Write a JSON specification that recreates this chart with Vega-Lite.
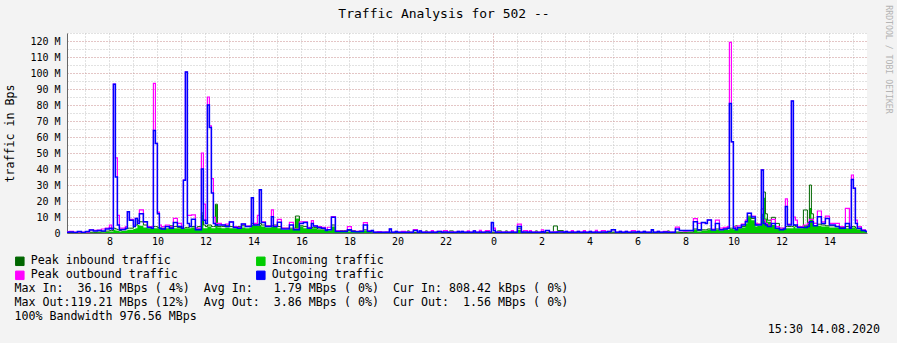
{
  "$schema": "https://vega.github.io/schema/vega-lite/v6.json",
  "width": 800,
  "height": 200,
  "autosize": {"type": "none"},
  "padding": {"left": 67, "top": 33, "right": 30, "bottom": 110},
  "background": "#f3f3f3",
  "config": {"font": "DejaVu Sans Mono", "view": {"stroke": null, "fill": "#ffffff"}},
  "title": {"text": "15:30 14.08.2020", "orient": "bottom", "anchor": "end", "frame": "group", "offset": 2, "dx": 13, "fontSize": 11.65, "fontWeight": "normal", "color": "#000000", "font": "DejaVu Sans Mono"},
  "data": {
    "format": {"parse": {"time": "date"}},
    "values": [
      {"time":"2020-08-13T06:10","peak_in":0.5,"in":0.2,"peak_out":0.8,"out":0.4},
      {"time":"2020-08-13T06:20","peak_in":0.4,"in":0.2,"peak_out":1.0,"out":0.6},
      {"time":"2020-08-13T06:30","peak_in":0.3,"in":0.2,"peak_out":0.5,"out":0.3},
      {"time":"2020-08-13T06:40","peak_in":0.4,"in":0.2,"peak_out":0.6,"out":1.0},
      {"time":"2020-08-13T06:50","peak_in":0.3,"in":0.2,"peak_out":0.5,"out":0.3},
      {"time":"2020-08-13T07:00","peak_in":0.4,"in":0.3,"peak_out":0.6,"out":1.0},
      {"time":"2020-08-13T07:10","peak_in":0.5,"in":0.3,"peak_out":2.0,"out":1.8},
      {"time":"2020-08-13T07:20","peak_in":0.5,"in":0.4,"peak_out":1.6,"out":1.2},
      {"time":"2020-08-13T07:30","peak_in":0.6,"in":0.4,"peak_out":1.8,"out":1.5},
      {"time":"2020-08-13T07:40","peak_in":0.8,"in":0.5,"peak_out":2.5,"out":1.2},
      {"time":"2020-08-13T07:50","peak_in":1.2,"in":0.8,"peak_out":3.0,"out":2.5},
      {"time":"2020-08-13T08:00","peak_in":1.5,"in":1.0,"peak_out":5.0,"out":2.9},
      {"time":"2020-08-13T08:05","peak_in":1.5,"in":1.0,"peak_out":3.0,"out":2.5},
      {"time":"2020-08-13T08:10","peak_in":3.0,"in":2.0,"peak_out":93.0,"out":93.0},
      {"time":"2020-08-13T08:15","peak_in":2.5,"in":1.5,"peak_out":47.0,"out":35.0},
      {"time":"2020-08-13T08:20","peak_in":2.0,"in":1.2,"peak_out":11.0,"out":5.0},
      {"time":"2020-08-13T08:25","peak_in":1.5,"in":1.0,"peak_out":3.0,"out":2.0},
      {"time":"2020-08-13T08:30","peak_in":2.0,"in":1.2,"peak_out":3.0,"out":2.2},
      {"time":"2020-08-13T08:40","peak_in":2.5,"in":1.5,"peak_out":4.0,"out":3.0},
      {"time":"2020-08-13T08:45","peak_in":3.0,"in":2.0,"peak_out":13.3,"out":13.3},
      {"time":"2020-08-13T08:50","peak_in":3.0,"in":2.0,"peak_out":8.5,"out":8.0},
      {"time":"2020-08-13T09:00","peak_in":4.0,"in":2.5,"peak_out":5.0,"out":4.0},
      {"time":"2020-08-13T09:05","peak_in":5.0,"in":3.0,"peak_out":9.2,"out":9.0},
      {"time":"2020-08-13T09:10","peak_in":8.0,"in":5.0,"peak_out":7.0,"out":6.0},
      {"time":"2020-08-13T09:15","peak_in":7.0,"in":4.5,"peak_out":14.4,"out":12.0},
      {"time":"2020-08-13T09:25","peak_in":5.0,"in":3.5,"peak_out":7.0,"out":7.0},
      {"time":"2020-08-13T09:35","peak_in":4.0,"in":3.0,"peak_out":4.0,"out":3.5},
      {"time":"2020-08-13T09:45","peak_in":4.0,"in":3.0,"peak_out":4.0,"out":3.0},
      {"time":"2020-08-13T09:50","peak_in":4.0,"in":3.0,"peak_out":93.5,"out":64.0},
      {"time":"2020-08-13T09:55","peak_in":4.0,"in":3.0,"peak_out":56.0,"out":56.0},
      {"time":"2020-08-13T10:00","peak_in":3.5,"in":3.0,"peak_out":13.0,"out":12.0},
      {"time":"2020-08-13T10:05","peak_in":3.0,"in":2.5,"peak_out":5.0,"out":3.0},
      {"time":"2020-08-13T10:10","peak_in":3.0,"in":2.5,"peak_out":4.0,"out":2.5},
      {"time":"2020-08-13T10:20","peak_in":4.0,"in":3.0,"peak_out":5.0,"out":4.0},
      {"time":"2020-08-13T10:30","peak_in":4.5,"in":4.0,"peak_out":4.0,"out":3.0},
      {"time":"2020-08-13T10:40","peak_in":4.0,"in":3.0,"peak_out":9.2,"out":6.5},
      {"time":"2020-08-13T10:50","peak_in":3.5,"in":3.0,"peak_out":6.0,"out":4.0},
      {"time":"2020-08-13T11:00","peak_in":3.0,"in":2.5,"peak_out":4.0,"out":3.0},
      {"time":"2020-08-13T11:05","peak_in":3.0,"in":2.5,"peak_out":33.0,"out":33.0},
      {"time":"2020-08-13T11:10","peak_in":3.5,"in":3.0,"peak_out":100.6,"out":100.6},
      {"time":"2020-08-13T11:15","peak_in":3.5,"in":3.0,"peak_out":11.0,"out":6.0},
      {"time":"2020-08-13T11:20","peak_in":4.0,"in":3.0,"peak_out":11.0,"out":4.0},
      {"time":"2020-08-13T11:25","peak_in":4.0,"in":3.5,"peak_out":11.3,"out":8.6},
      {"time":"2020-08-13T11:35","peak_in":3.0,"in":2.5,"peak_out":3.0,"out":2.0},
      {"time":"2020-08-13T11:40","peak_in":4.0,"in":3.0,"peak_out":3.0,"out":2.0},
      {"time":"2020-08-13T11:50","peak_in":12.5,"in":11.5,"peak_out":50.0,"out":40.0},
      {"time":"2020-08-13T11:55","peak_in":5.0,"in":3.0,"peak_out":18.0,"out":8.0},
      {"time":"2020-08-13T12:00","peak_in":4.0,"in":3.0,"peak_out":8.0,"out":6.0},
      {"time":"2020-08-13T12:05","peak_in":5.0,"in":4.0,"peak_out":85.0,"out":80.0},
      {"time":"2020-08-13T12:10","peak_in":5.0,"in":4.0,"peak_out":67.0,"out":66.0},
      {"time":"2020-08-13T12:15","peak_in":4.0,"in":3.0,"peak_out":34.0,"out":25.0},
      {"time":"2020-08-13T12:20","peak_in":4.0,"in":3.0,"peak_out":9.8,"out":6.0},
      {"time":"2020-08-13T12:25","peak_in":18.0,"in":17.5,"peak_out":6.0,"out":5.0},
      {"time":"2020-08-13T12:30","peak_in":4.0,"in":3.5,"peak_out":6.0,"out":5.0},
      {"time":"2020-08-13T12:40","peak_in":4.0,"in":3.0,"peak_out":5.0,"out":5.0},
      {"time":"2020-08-13T12:50","peak_in":4.5,"in":3.5,"peak_out":5.6,"out":4.0},
      {"time":"2020-08-13T13:00","peak_in":4.0,"in":3.0,"peak_out":7.0,"out":6.9},
      {"time":"2020-08-13T13:10","peak_in":3.5,"in":3.0,"peak_out":4.0,"out":3.5},
      {"time":"2020-08-13T13:20","peak_in":4.0,"in":3.0,"peak_out":3.5,"out":3.0},
      {"time":"2020-08-13T13:30","peak_in":4.5,"in":3.5,"peak_out":5.6,"out":5.6},
      {"time":"2020-08-13T13:40","peak_in":4.0,"in":3.0,"peak_out":4.3,"out":4.0},
      {"time":"2020-08-13T13:50","peak_in":4.0,"in":3.5,"peak_out":4.5,"out":4.0},
      {"time":"2020-08-13T13:55","peak_in":6.0,"in":5.0,"peak_out":22.0,"out":22.0},
      {"time":"2020-08-13T14:00","peak_in":5.0,"in":4.5,"peak_out":6.0,"out":5.0},
      {"time":"2020-08-13T14:10","peak_in":5.5,"in":4.5,"peak_out":11.0,"out":5.0},
      {"time":"2020-08-13T14:15","peak_in":6.0,"in":5.0,"peak_out":27.0,"out":27.0},
      {"time":"2020-08-13T14:20","peak_in":5.0,"in":4.0,"peak_out":7.0,"out":6.5},
      {"time":"2020-08-13T14:30","peak_in":4.5,"in":3.5,"peak_out":4.5,"out":4.0},
      {"time":"2020-08-13T14:40","peak_in":4.5,"in":3.5,"peak_out":4.5,"out":4.0},
      {"time":"2020-08-13T14:45","peak_in":4.5,"in":4.0,"peak_out":14.4,"out":10.2},
      {"time":"2020-08-13T14:50","peak_in":5.0,"in":4.0,"peak_out":4.5,"out":4.0},
      {"time":"2020-08-13T15:00","peak_in":4.0,"in":3.0,"peak_out":8.5,"out":6.7},
      {"time":"2020-08-13T15:10","peak_in":3.0,"in":2.0,"peak_out":3.0,"out":2.5},
      {"time":"2020-08-13T15:20","peak_in":3.0,"in":2.0,"peak_out":3.0,"out":2.5},
      {"time":"2020-08-13T15:30","peak_in":3.0,"in":2.5,"peak_out":6.7,"out":5.0},
      {"time":"2020-08-13T15:40","peak_in":3.0,"in":2.0,"peak_out":2.5,"out":2.0},
      {"time":"2020-08-13T15:45","peak_in":10.6,"in":9.0,"peak_out":2.5,"out":2.0},
      {"time":"2020-08-13T15:55","peak_in":4.5,"in":4.0,"peak_out":7.0,"out":6.0},
      {"time":"2020-08-13T16:05","peak_in":4.0,"in":3.0,"peak_out":7.0,"out":6.5},
      {"time":"2020-08-13T16:15","peak_in":3.0,"in":2.5,"peak_out":3.5,"out":3.0},
      {"time":"2020-08-13T16:25","peak_in":3.5,"in":3.0,"peak_out":7.7,"out":6.0},
      {"time":"2020-08-13T16:30","peak_in":3.5,"in":3.0,"peak_out":4.5,"out":4.4},
      {"time":"2020-08-13T16:40","peak_in":2.5,"in":2.0,"peak_out":4.0,"out":3.5},
      {"time":"2020-08-13T16:50","peak_in":2.5,"in":2.0,"peak_out":3.5,"out":3.0},
      {"time":"2020-08-13T17:00","peak_in":2.0,"in":1.5,"peak_out":2.0,"out":1.5},
      {"time":"2020-08-13T17:05","peak_in":2.0,"in":1.5,"peak_out":3.6,"out":2.0},
      {"time":"2020-08-13T17:15","peak_in":5.0,"in":4.0,"peak_out":10.2,"out":9.8},
      {"time":"2020-08-13T17:25","peak_in":1.5,"in":1.0,"peak_out":1.5,"out":1.0},
      {"time":"2020-08-13T17:35","peak_in":1.5,"in":1.0,"peak_out":1.2,"out":1.0},
      {"time":"2020-08-13T17:45","peak_in":1.5,"in":1.0,"peak_out":1.2,"out":1.0},
      {"time":"2020-08-13T17:55","peak_in":1.5,"in":1.0,"peak_out":4.0,"out":2.0},
      {"time":"2020-08-13T18:05","peak_in":1.5,"in":1.0,"peak_out":1.2,"out":1.0},
      {"time":"2020-08-13T18:15","peak_in":1.0,"in":0.8,"peak_out":1.0,"out":0.8},
      {"time":"2020-08-13T18:25","peak_in":1.2,"in":0.8,"peak_out":1.2,"out":1.0},
      {"time":"2020-08-13T18:35","peak_in":2.0,"in":1.5,"peak_out":6.5,"out":5.0},
      {"time":"2020-08-13T18:45","peak_in":1.0,"in":0.8,"peak_out":1.5,"out":1.0},
      {"time":"2020-08-13T18:55","peak_in":0.8,"in":0.5,"peak_out":1.5,"out":1.5},
      {"time":"2020-08-13T19:00","peak_in":0.3,"in":0.2,"peak_out":0.6,"out":0.4},
      {"time":"2020-08-13T19:10","peak_in":0.4,"in":0.2,"peak_out":0.8,"out":0.5},
      {"time":"2020-08-13T19:20","peak_in":0.3,"in":0.2,"peak_out":0.6,"out":0.4},
      {"time":"2020-08-13T19:30","peak_in":0.3,"in":0.2,"peak_out":0.7,"out":0.4},
      {"time":"2020-08-13T19:40","peak_in":0.4,"in":0.3,"peak_out":2.5,"out":2.5},
      {"time":"2020-08-13T19:45","peak_in":0.3,"in":0.2,"peak_out":0.6,"out":0.4},
      {"time":"2020-08-13T19:55","peak_in":0.3,"in":0.2,"peak_out":1.0,"out":1.0},
      {"time":"2020-08-13T20:00","peak_in":0.3,"in":0.2,"peak_out":0.6,"out":0.4},
      {"time":"2020-08-13T20:10","peak_in":0.4,"in":0.2,"peak_out":1.0,"out":0.5},
      {"time":"2020-08-13T20:20","peak_in":0.3,"in":0.2,"peak_out":0.6,"out":0.4},
      {"time":"2020-08-13T20:25","peak_in":1.3,"in":0.4,"peak_out":0.7,"out":0.5},
      {"time":"2020-08-13T20:30","peak_in":0.3,"in":0.2,"peak_out":0.6,"out":0.4},
      {"time":"2020-08-13T20:40","peak_in":0.4,"in":0.3,"peak_out":2.1,"out":1.5},
      {"time":"2020-08-13T20:50","peak_in":0.3,"in":0.2,"peak_out":0.6,"out":0.4},
      {"time":"2020-08-13T20:55","peak_in":0.4,"in":0.2,"peak_out":1.3,"out":1.3},
      {"time":"2020-08-13T21:00","peak_in":0.3,"in":0.2,"peak_out":0.6,"out":0.4},
      {"time":"2020-08-13T21:10","peak_in":1.3,"in":0.5,"peak_out":0.7,"out":0.5},
      {"time":"2020-08-13T21:15","peak_in":0.3,"in":0.2,"peak_out":0.6,"out":0.4},
      {"time":"2020-08-13T21:25","peak_in":0.4,"in":0.2,"peak_out":1.5,"out":0.6},
      {"time":"2020-08-13T21:30","peak_in":0.3,"in":0.2,"peak_out":0.6,"out":0.4},
      {"time":"2020-08-13T21:40","peak_in":0.9,"in":0.8,"peak_out":1.0,"out":1.0},
      {"time":"2020-08-13T21:50","peak_in":0.3,"in":0.2,"peak_out":0.6,"out":0.4},
      {"time":"2020-08-13T21:55","peak_in":0.4,"in":0.2,"peak_out":1.5,"out":0.6},
      {"time":"2020-08-13T22:05","peak_in":0.3,"in":0.2,"peak_out":0.6,"out":0.4},
      {"time":"2020-08-13T22:10","peak_in":1.3,"in":0.5,"peak_out":0.7,"out":0.5},
      {"time":"2020-08-13T22:20","peak_in":0.3,"in":0.2,"peak_out":0.6,"out":0.4},
      {"time":"2020-08-13T22:30","peak_in":0.4,"in":0.2,"peak_out":1.0,"out":1.0},
      {"time":"2020-08-13T22:35","peak_in":0.3,"in":0.2,"peak_out":0.6,"out":0.4},
      {"time":"2020-08-13T22:40","peak_in":0.4,"in":0.2,"peak_out":1.0,"out":1.0},
      {"time":"2020-08-13T22:45","peak_in":0.3,"in":0.2,"peak_out":0.6,"out":0.4},
      {"time":"2020-08-13T22:55","peak_in":0.4,"in":0.2,"peak_out":1.3,"out":0.6},
      {"time":"2020-08-13T23:00","peak_in":0.3,"in":0.2,"peak_out":0.6,"out":0.4},
      {"time":"2020-08-13T23:10","peak_in":0.4,"in":0.2,"peak_out":1.3,"out":1.3},
      {"time":"2020-08-13T23:15","peak_in":0.3,"in":0.2,"peak_out":0.6,"out":0.4},
      {"time":"2020-08-13T23:25","peak_in":0.4,"in":0.2,"peak_out":1.6,"out":0.6},
      {"time":"2020-08-13T23:30","peak_in":0.3,"in":0.2,"peak_out":0.6,"out":0.4},
      {"time":"2020-08-13T23:40","peak_in":1.0,"in":0.4,"peak_out":1.5,"out":0.6},
      {"time":"2020-08-13T23:50","peak_in":0.3,"in":0.2,"peak_out":0.6,"out":0.4},
      {"time":"2020-08-13T23:55","peak_in":0.5,"in":0.3,"peak_out":6.5,"out":6.5},
      {"time":"2020-08-14T00:00","peak_in":0.4,"in":0.2,"peak_out":3.0,"out":1.5},
      {"time":"2020-08-14T00:05","peak_in":0.3,"in":0.2,"peak_out":0.6,"out":0.4},
      {"time":"2020-08-14T00:10","peak_in":1.3,"in":0.5,"peak_out":0.7,"out":0.5},
      {"time":"2020-08-14T00:20","peak_in":0.3,"in":0.2,"peak_out":0.6,"out":0.4},
      {"time":"2020-08-14T00:30","peak_in":1.3,"in":0.5,"peak_out":0.7,"out":0.5},
      {"time":"2020-08-14T00:35","peak_in":0.3,"in":0.2,"peak_out":0.6,"out":0.4},
      {"time":"2020-08-14T00:45","peak_in":0.4,"in":0.2,"peak_out":1.5,"out":0.6},
      {"time":"2020-08-14T00:50","peak_in":0.3,"in":0.2,"peak_out":0.6,"out":0.4},
      {"time":"2020-08-14T01:00","peak_in":3.0,"in":2.0,"peak_out":5.6,"out":4.0},
      {"time":"2020-08-14T01:10","peak_in":0.4,"in":0.3,"peak_out":0.8,"out":0.5},
      {"time":"2020-08-14T01:15","peak_in":0.4,"in":0.2,"peak_out":1.5,"out":0.6},
      {"time":"2020-08-14T01:25","peak_in":0.3,"in":0.2,"peak_out":0.6,"out":0.4},
      {"time":"2020-08-14T01:30","peak_in":0.4,"in":0.2,"peak_out":1.5,"out":0.6},
      {"time":"2020-08-14T01:35","peak_in":0.3,"in":0.2,"peak_out":0.6,"out":0.4},
      {"time":"2020-08-14T01:45","peak_in":1.3,"in":0.5,"peak_out":0.7,"out":0.5},
      {"time":"2020-08-14T01:50","peak_in":0.3,"in":0.2,"peak_out":0.6,"out":0.4},
      {"time":"2020-08-14T02:00","peak_in":0.4,"in":0.2,"peak_out":2.0,"out":0.8},
      {"time":"2020-08-14T02:05","peak_in":0.3,"in":0.2,"peak_out":0.6,"out":0.4},
      {"time":"2020-08-14T02:10","peak_in":0.4,"in":0.3,"peak_out":1.5,"out":1.5},
      {"time":"2020-08-14T02:20","peak_in":0.3,"in":0.2,"peak_out":0.6,"out":0.4},
      {"time":"2020-08-14T02:30","peak_in":4.4,"in":0.5,"peak_out":0.7,"out":0.5},
      {"time":"2020-08-14T02:40","peak_in":1.5,"in":0.4,"peak_out":0.8,"out":0.6},
      {"time":"2020-08-14T02:55","peak_in":0.3,"in":0.2,"peak_out":0.6,"out":0.4},
      {"time":"2020-08-14T03:00","peak_in":0.4,"in":0.2,"peak_out":1.0,"out":1.0},
      {"time":"2020-08-14T03:05","peak_in":0.3,"in":0.2,"peak_out":0.6,"out":0.4},
      {"time":"2020-08-14T03:15","peak_in":0.4,"in":0.2,"peak_out":1.5,"out":0.6},
      {"time":"2020-08-14T03:20","peak_in":0.3,"in":0.2,"peak_out":0.6,"out":0.4},
      {"time":"2020-08-14T03:30","peak_in":0.4,"in":0.2,"peak_out":1.0,"out":1.0},
      {"time":"2020-08-14T03:35","peak_in":0.3,"in":0.2,"peak_out":0.6,"out":0.4},
      {"time":"2020-08-14T03:45","peak_in":0.4,"in":0.2,"peak_out":1.5,"out":0.6},
      {"time":"2020-08-14T03:50","peak_in":0.3,"in":0.2,"peak_out":0.6,"out":0.4},
      {"time":"2020-08-14T04:00","peak_in":0.4,"in":0.2,"peak_out":1.0,"out":1.0},
      {"time":"2020-08-14T04:05","peak_in":0.3,"in":0.2,"peak_out":0.6,"out":0.4},
      {"time":"2020-08-14T04:15","peak_in":0.4,"in":0.2,"peak_out":1.6,"out":0.6},
      {"time":"2020-08-14T04:20","peak_in":0.3,"in":0.2,"peak_out":0.6,"out":0.4},
      {"time":"2020-08-14T04:30","peak_in":0.4,"in":0.2,"peak_out":1.5,"out":0.6},
      {"time":"2020-08-14T04:40","peak_in":0.3,"in":0.2,"peak_out":0.6,"out":0.4},
      {"time":"2020-08-14T04:45","peak_in":0.4,"in":0.2,"peak_out":1.0,"out":1.0},
      {"time":"2020-08-14T04:55","peak_in":0.5,"in":0.3,"peak_out":2.0,"out":2.0},
      {"time":"2020-08-14T05:05","peak_in":0.3,"in":0.2,"peak_out":0.6,"out":0.4},
      {"time":"2020-08-14T05:15","peak_in":0.4,"in":0.2,"peak_out":1.0,"out":1.0},
      {"time":"2020-08-14T05:20","peak_in":0.3,"in":0.2,"peak_out":0.6,"out":0.4},
      {"time":"2020-08-14T05:30","peak_in":0.4,"in":0.2,"peak_out":1.0,"out":1.0},
      {"time":"2020-08-14T05:35","peak_in":0.3,"in":0.2,"peak_out":0.6,"out":0.4},
      {"time":"2020-08-14T05:45","peak_in":0.4,"in":0.2,"peak_out":1.5,"out":0.6},
      {"time":"2020-08-14T05:55","peak_in":0.3,"in":0.2,"peak_out":0.6,"out":0.4},
      {"time":"2020-08-14T06:00","peak_in":0.4,"in":0.2,"peak_out":1.0,"out":1.0},
      {"time":"2020-08-14T06:05","peak_in":0.3,"in":0.2,"peak_out":0.6,"out":0.4},
      {"time":"2020-08-14T06:15","peak_in":0.4,"in":0.3,"peak_out":1.0,"out":1.0},
      {"time":"2020-08-14T06:20","peak_in":0.3,"in":0.2,"peak_out":0.6,"out":0.4},
      {"time":"2020-08-14T06:35","peak_in":1.5,"in":0.8,"peak_out":2.0,"out":2.0},
      {"time":"2020-08-14T06:40","peak_in":0.3,"in":0.2,"peak_out":0.6,"out":0.4},
      {"time":"2020-08-14T06:50","peak_in":0.4,"in":0.2,"peak_out":1.0,"out":1.0},
      {"time":"2020-08-14T06:55","peak_in":0.3,"in":0.2,"peak_out":0.6,"out":0.4},
      {"time":"2020-08-14T07:05","peak_in":0.4,"in":0.2,"peak_out":1.0,"out":0.6},
      {"time":"2020-08-14T07:15","peak_in":1.3,"in":0.5,"peak_out":0.7,"out":0.5},
      {"time":"2020-08-14T07:20","peak_in":0.3,"in":0.2,"peak_out":0.6,"out":0.4},
      {"time":"2020-08-14T07:35","peak_in":0.6,"in":0.4,"peak_out":3.7,"out":2.5},
      {"time":"2020-08-14T07:45","peak_in":0.4,"in":0.3,"peak_out":1.5,"out":1.5},
      {"time":"2020-08-14T07:55","peak_in":0.5,"in":0.4,"peak_out":1.2,"out":1.5},
      {"time":"2020-08-14T08:05","peak_in":0.6,"in":0.5,"peak_out":1.5,"out":1.5},
      {"time":"2020-08-14T08:20","peak_in":2.5,"in":2.0,"peak_out":9.0,"out":7.0},
      {"time":"2020-08-14T08:30","peak_in":1.5,"in":1.0,"peak_out":6.0,"out":2.0},
      {"time":"2020-08-14T08:40","peak_in":2.0,"in":1.5,"peak_out":6.5,"out":6.5},
      {"time":"2020-08-14T08:50","peak_in":2.0,"in":1.5,"peak_out":6.0,"out":6.0},
      {"time":"2020-08-14T08:55","peak_in":2.5,"in":2.0,"peak_out":8.1,"out":8.1},
      {"time":"2020-08-14T09:05","peak_in":2.0,"in":1.5,"peak_out":2.5,"out":1.9},
      {"time":"2020-08-14T09:15","peak_in":2.5,"in":2.0,"peak_out":8.1,"out":6.0},
      {"time":"2020-08-14T09:25","peak_in":2.0,"in":1.5,"peak_out":3.0,"out":2.0},
      {"time":"2020-08-14T09:35","peak_in":2.5,"in":2.0,"peak_out":3.5,"out":2.5},
      {"time":"2020-08-14T09:45","peak_in":3.0,"in":2.0,"peak_out":4.0,"out":3.0},
      {"time":"2020-08-14T09:50","peak_in":3.0,"in":2.5,"peak_out":119.2,"out":81.0},
      {"time":"2020-08-14T09:55","peak_in":3.0,"in":2.5,"peak_out":57.0,"out":57.0},
      {"time":"2020-08-14T10:00","peak_in":2.5,"in":2.0,"peak_out":4.0,"out":3.0},
      {"time":"2020-08-14T10:05","peak_in":4.5,"in":2.5,"peak_out":3.0,"out":2.0},
      {"time":"2020-08-14T10:10","peak_in":3.0,"in":2.5,"peak_out":4.5,"out":3.5},
      {"time":"2020-08-14T10:20","peak_in":4.0,"in":3.5,"peak_out":5.5,"out":5.0},
      {"time":"2020-08-14T10:30","peak_in":7.0,"in":6.0,"peak_out":8.0,"out":7.0},
      {"time":"2020-08-14T10:35","peak_in":10.5,"in":10.0,"peak_out":12.3,"out":12.3},
      {"time":"2020-08-14T10:45","peak_in":9.0,"in":8.0,"peak_out":10.5,"out":10.0},
      {"time":"2020-08-14T10:55","peak_in":5.0,"in":4.0,"peak_out":6.0,"out":5.0},
      {"time":"2020-08-14T11:00","peak_in":5.5,"in":4.5,"peak_out":5.5,"out":5.0},
      {"time":"2020-08-14T11:10","peak_in":15.0,"in":12.0,"peak_out":39.4,"out":39.4},
      {"time":"2020-08-14T11:15","peak_in":25.6,"in":22.0,"peak_out":8.0,"out":6.0},
      {"time":"2020-08-14T11:20","peak_in":12.0,"in":9.0,"peak_out":6.0,"out":5.0},
      {"time":"2020-08-14T11:25","peak_in":8.0,"in":7.0,"peak_out":5.0,"out":4.0},
      {"time":"2020-08-14T11:35","peak_in":9.8,"in":5.0,"peak_out":8.5,"out":6.0},
      {"time":"2020-08-14T11:45","peak_in":6.0,"in":3.0,"peak_out":4.0,"out":3.0},
      {"time":"2020-08-14T11:55","peak_in":3.0,"in":2.5,"peak_out":3.0,"out":2.0},
      {"time":"2020-08-14T12:05","peak_in":3.0,"in":2.5,"peak_out":3.0,"out":2.5},
      {"time":"2020-08-14T12:10","peak_in":4.0,"in":3.0,"peak_out":21.3,"out":16.5},
      {"time":"2020-08-14T12:15","peak_in":4.0,"in":3.0,"peak_out":5.5,"out":5.0},
      {"time":"2020-08-14T12:25","peak_in":4.0,"in":3.0,"peak_out":82.5,"out":82.5},
      {"time":"2020-08-14T12:30","peak_in":5.0,"in":4.0,"peak_out":10.0,"out":5.0},
      {"time":"2020-08-14T12:35","peak_in":4.0,"in":3.0,"peak_out":8.0,"out":5.0},
      {"time":"2020-08-14T12:40","peak_in":4.0,"in":3.0,"peak_out":4.0,"out":3.5},
      {"time":"2020-08-14T12:55","peak_in":14.4,"in":5.0,"peak_out":5.0,"out":3.5},
      {"time":"2020-08-14T13:05","peak_in":6.5,"in":6.0,"peak_out":6.0,"out":4.0},
      {"time":"2020-08-14T13:10","peak_in":30.0,"in":15.6,"peak_out":8.5,"out":7.0},
      {"time":"2020-08-14T13:15","peak_in":12.0,"in":9.0,"peak_out":8.5,"out":7.0},
      {"time":"2020-08-14T13:20","peak_in":6.0,"in":5.0,"peak_out":6.0,"out":4.5},
      {"time":"2020-08-14T13:30","peak_in":5.5,"in":4.5,"peak_out":13.75,"out":10.2},
      {"time":"2020-08-14T13:40","peak_in":5.0,"in":4.0,"peak_out":7.0,"out":6.0},
      {"time":"2020-08-14T13:50","peak_in":4.5,"in":4.0,"peak_out":10.6,"out":9.0},
      {"time":"2020-08-14T14:00","peak_in":4.5,"in":3.5,"peak_out":6.0,"out":5.0},
      {"time":"2020-08-14T14:15","peak_in":4.0,"in":3.5,"peak_out":6.0,"out":4.0},
      {"time":"2020-08-14T14:25","peak_in":3.5,"in":3.0,"peak_out":4.0,"out":3.0},
      {"time":"2020-08-14T14:40","peak_in":4.0,"in":3.0,"peak_out":15.4,"out":6.0},
      {"time":"2020-08-14T14:50","peak_in":3.5,"in":3.0,"peak_out":4.0,"out":3.0},
      {"time":"2020-08-14T14:55","peak_in":4.0,"in":3.5,"peak_out":36.25,"out":33.5},
      {"time":"2020-08-14T15:00","peak_in":4.0,"in":3.5,"peak_out":28.0,"out":28.0},
      {"time":"2020-08-14T15:05","peak_in":3.0,"in":2.5,"peak_out":8.0,"out":6.0},
      {"time":"2020-08-14T15:10","peak_in":2.5,"in":2.0,"peak_out":4.0,"out":3.0},
      {"time":"2020-08-14T15:20","peak_in":1.5,"in":1.2,"peak_out":2.0,"out":1.5},
      {"time":"2020-08-14T15:30","peak_in":1.0,"in":0.8,"peak_out":1.2,"out":1.0},
      {"time":"2020-08-14T15:40","peak_in":1.0,"in":0.8,"peak_out":1.2,"out":1.0}
    ]
  },
  "layer": [
    {
      "mark": {"type": "area", "interpolate": "step-after", "clip": true, "opacity": 1},
      "encoding": {
        "x": {
          "field": "time", "type": "temporal",
          "scale": {"domain": [{"year": 2020, "month": 8, "date": 13, "hours": 6, "minutes": 14}, {"year": 2020, "month": 8, "date": 14, "hours": 15, "minutes": 34}]},
          "axis": {
            "orient": "bottom",
            "values": [
              {"year": 2020, "month": 8, "date": 13, "hours": 7}, {"year": 2020, "month": 8, "date": 13, "hours": 8}, {"year": 2020, "month": 8, "date": 13, "hours": 9},
              {"year": 2020, "month": 8, "date": 13, "hours": 10}, {"year": 2020, "month": 8, "date": 13, "hours": 11}, {"year": 2020, "month": 8, "date": 13, "hours": 12},
              {"year": 2020, "month": 8, "date": 13, "hours": 13}, {"year": 2020, "month": 8, "date": 13, "hours": 14}, {"year": 2020, "month": 8, "date": 13, "hours": 15},
              {"year": 2020, "month": 8, "date": 13, "hours": 16}, {"year": 2020, "month": 8, "date": 13, "hours": 17}, {"year": 2020, "month": 8, "date": 13, "hours": 18},
              {"year": 2020, "month": 8, "date": 13, "hours": 19}, {"year": 2020, "month": 8, "date": 13, "hours": 20}, {"year": 2020, "month": 8, "date": 13, "hours": 21},
              {"year": 2020, "month": 8, "date": 13, "hours": 22}, {"year": 2020, "month": 8, "date": 13, "hours": 23}, {"year": 2020, "month": 8, "date": 14, "hours": 0},
              {"year": 2020, "month": 8, "date": 14, "hours": 1}, {"year": 2020, "month": 8, "date": 14, "hours": 2}, {"year": 2020, "month": 8, "date": 14, "hours": 3},
              {"year": 2020, "month": 8, "date": 14, "hours": 4}, {"year": 2020, "month": 8, "date": 14, "hours": 5}, {"year": 2020, "month": 8, "date": 14, "hours": 6},
              {"year": 2020, "month": 8, "date": 14, "hours": 7}, {"year": 2020, "month": 8, "date": 14, "hours": 8}, {"year": 2020, "month": 8, "date": 14, "hours": 9},
              {"year": 2020, "month": 8, "date": 14, "hours": 10}, {"year": 2020, "month": 8, "date": 14, "hours": 11}, {"year": 2020, "month": 8, "date": 14, "hours": 12},
              {"year": 2020, "month": 8, "date": 14, "hours": 13}, {"year": 2020, "month": 8, "date": 14, "hours": 14}, {"year": 2020, "month": 8, "date": 14, "hours": 15}
            ],
            "labelExpr": "hours(datum.value) % 2 == 0 ? '' + hours(datum.value) : ''",
            "labelOverlap": false, "labelFlush": false, "labelAngle": 0,
            "labelFont": "DejaVu Sans Mono", "labelFontSize": 10, "labelColor": "#000000", "labelPadding": 3,
            "grid": true,
            "gridColor": {"condition": {"test": "hours(datum.value) == 0", "value": "#c88c8c"}, "value": "#c4c4c4"},
            "gridDash": [1, 2], "gridWidth": 1,
            "ticks": false, "domainColor": "#666666", "domainWidth": 1,
            "title": [
              "Max\u00a0In:\u00a0\u00a036.16\u00a0MBps\u00a0(\u00a04%)\u00a0\u00a0Avg\u00a0In:\u00a0\u00a0\u00a01.79\u00a0MBps\u00a0(\u00a00%)\u00a0\u00a0Cur\u00a0In:\u00a0808.42\u00a0kBps\u00a0(\u00a00%)",
              "Max\u00a0Out:119.21\u00a0MBps\u00a0(12%)\u00a0\u00a0Avg\u00a0Out:\u00a0\u00a03.86\u00a0MBps\u00a0(\u00a00%)\u00a0\u00a0Cur\u00a0Out:\u00a0\u00a01.56\u00a0MBps\u00a0(\u00a00%)",
              "100%\u00a0Bandwidth\u00a0976.56\u00a0MBps"
            ],
            "titleX": -53, "titleY": 55, "titleAlign": "left", "titleAnchor": "start", "titleBaseline": "middle",
            "titleFont": "DejaVu Sans Mono", "titleFontSize": 11.65, "titleFontWeight": "normal", "titleColor": "#000000", "titleLineHeight": 14
          }
        },
        "y": {
          "field": "in", "type": "quantitative",
          "scale": {"domain": [0, 125], "nice": false},
          "axis": {
            "orient": "left",
            "values": [0, 5, 10, 15, 20, 25, 30, 35, 40, 45, 50, 55, 60, 65, 70, 75, 80, 85, 90, 95, 100, 105, 110, 115, 120, 125],
            "labelExpr": "datum.value % 10 == 0 ? (datum.value == 0 ? '0\u00a0\u00a0' : datum.value + '\u00a0M') : ''",
            "labelFont": "DejaVu Sans Mono", "labelFontSize": 10, "labelColor": "#000000", "labelPadding": 7,
            "grid": true,
            "gridColor": {"condition": {"test": "datum.value % 10 == 0", "value": "#c88c8c"}, "value": "#c4c4c4"},
            "gridDash": [1, 2], "gridWidth": 1,
            "ticks": false, "domainColor": "#666666", "domainWidth": 1,
            "title": "traffic in Bps", "titleX": -57, "titleY": 100, "titleAngle": 270, "titleAlign": "center", "titleBaseline": "middle",
            "titleFont": "DejaVu Sans Mono", "titleFontSize": 11.65, "titleFontWeight": "normal", "titleColor": "#000000"
          }
        },
        "color": {
          "datum": "Incoming traffic",
          "scale": {"domain": ["Peak inbound traffic", "Peak outbound traffic", "Incoming traffic", "Outgoing traffic"], "range": ["#006600", "#ff00ff", "#00cc00", "#0000ff"]},
          "legend": {
            "orient": "none", "legendX": -53, "legendY": 222, "columns": 2, "title": null, "padding": 0,
            "symbolType": "square", "symbolSize": 72, "symbolStrokeColor": "#000000", "symbolStrokeWidth": 1,
            "labelFont": "DejaVu Sans Mono", "labelFontSize": 11.65, "labelColor": "#000000", "labelOffset": 5, "labelLimit": 400,
            "rowPadding": 0.5, "columnPadding": 76,
            "encode": {"symbols": {"update": {"fill": {"scale": "color", "field": "value"}, "stroke": {"value": "#000000"}, "strokeWidth": {"value": 1}, "opacity": {"value": 1}}}}
          }
        }
      }
    },
    {
      "mark": {"type": "line", "interpolate": "step-after", "clip": true, "strokeWidth": 1},
      "encoding": {
        "x": {
          "field": "time", "type": "temporal",
          "axis": {"orient": "top", "labels": false, "ticks": false, "domain": false, "grid": false,
            "title": "Traffic Analysis for 502 --", "titleX": 376.5, "titleY": -20, "titleAlign": "center", "titleAnchor": "middle", "titleBaseline": "middle",
            "titleFont": "DejaVu Sans Mono", "titleFontSize": 13, "titleFontWeight": "normal", "titleColor": "#000000"}
        },
        "y": {
          "field": "peak_in", "type": "quantitative",
          "axis": {"orient": "right", "labels": false, "ticks": false, "domain": false, "grid": false,
            "title": "RRDTOOL / TOBI OETIKER", "titleAngle": 90, "titleX": 20, "titleY": 26, "titleAlign": "center", "titleBaseline": "middle",
            "titleFont": "DejaVu Sans Mono", "titleFontSize": 8.2, "titleFontWeight": "normal", "titleColor": "#b4b4b4"}
        },
        "color": {"datum": "Peak inbound traffic"}
      }
    },
    {
      "mark": {"type": "line", "interpolate": "step-after", "clip": true, "strokeWidth": 1.2},
      "encoding": {
        "x": {"field": "time", "type": "temporal", "axis": null},
        "y": {"field": "peak_out", "type": "quantitative", "axis": null},
        "color": {"datum": "Peak outbound traffic"}
      }
    },
    {
      "mark": {"type": "line", "interpolate": "step-after", "clip": true, "strokeWidth": 1.5},
      "encoding": {
        "x": {"field": "time", "type": "temporal", "axis": null},
        "y": {"field": "out", "type": "quantitative", "axis": null},
        "color": {"datum": "Outgoing traffic"}
      }
    }
  ],
  "resolve": {"axis": {"x": "independent", "y": "independent"}}
}
